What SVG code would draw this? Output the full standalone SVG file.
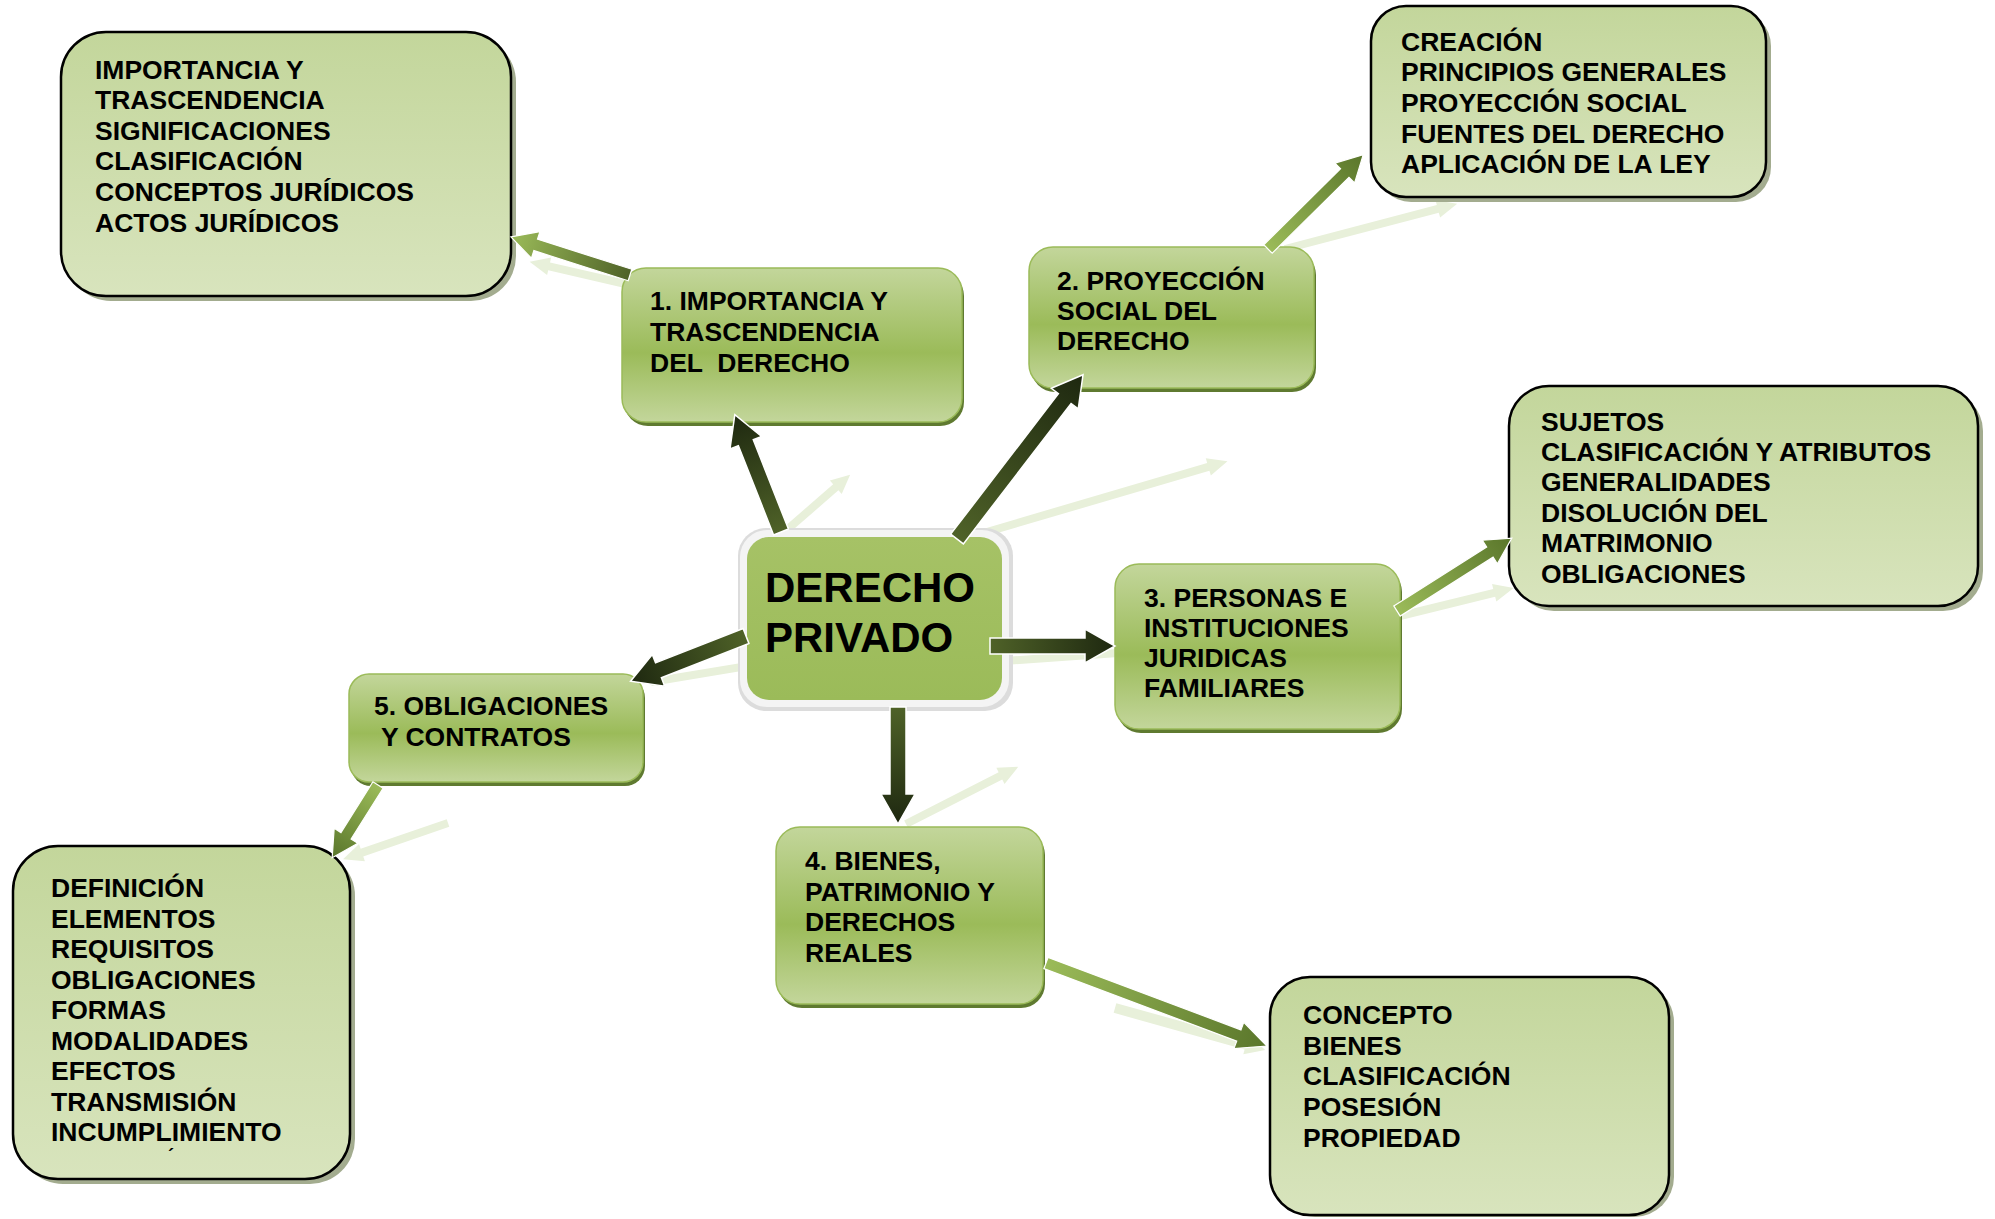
<svg xmlns="http://www.w3.org/2000/svg" width="1995" height="1219" viewBox="0 0 1995 1219">
<defs>
<linearGradient id="nodeGrad" x1="0" y1="0" x2="0" y2="1">
<stop offset="0" stop-color="#c3d69b"/><stop offset="0.55" stop-color="#9bbb59"/><stop offset="1" stop-color="#c3d69b"/>
</linearGradient>
<linearGradient id="detGrad" x1="0" y1="0" x2="0" y2="1">
<stop offset="0" stop-color="#c3d69b"/><stop offset="1" stop-color="#d8e4bd"/>
</linearGradient>
<linearGradient id="cenGrad" x1="0" y1="0" x2="0" y2="1">
<stop offset="0" stop-color="#a6c266"/><stop offset="1" stop-color="#9bbb59"/>
</linearGradient>
<linearGradient id="darkGrad" x1="0" y1="0" x2="1" y2="0">
<stop offset="0" stop-color="#4f6228"/><stop offset="1" stop-color="#1e2810"/>
</linearGradient>
<linearGradient id="lightGrad" x1="0" y1="0" x2="1" y2="0">
<stop offset="0" stop-color="#9bbb59"/><stop offset="1" stop-color="#5a762b"/>
</linearGradient>
<linearGradient id="lightGradR" x1="0" y1="0" x2="1" y2="0">
<stop offset="0" stop-color="#4f6228"/><stop offset="1" stop-color="#9bbb59"/>
</linearGradient>
<style>
.t{font-family:"Liberation Sans",Arial,sans-serif;font-weight:bold;font-size:26.5px;fill:#000;white-space:pre}
.big{font-size:42px}
.node{fill:url(#nodeGrad);stroke:#9bbb59;stroke-width:1.5}
.nsh{fill:#5f7a30}
.det{fill:url(#detGrad);stroke:#000;stroke-width:2.5}
.dsh{fill:#a3ac8f}
.dark{fill:url(#darkGrad);stroke:#fff;stroke-width:1.5}
.light{fill:url(#lightGrad);stroke:#fff;stroke-width:1.2}
.lightr{fill:url(#lightGradR);stroke:#fff;stroke-width:1.2}
.faint{fill:#e8f0da}
</style>
</defs>
<rect width="1995" height="1219" fill="#fff"/>

<g id="reflections">
<path class="faint" transform="translate(789,528) rotate(-41)" d="M0,-4 L62,-4 L62,-9 L81,0 L62,9 L62,4 L0,4 Z"/>
<path class="faint" transform="translate(980,534) rotate(-16.4)" d="M0,-4 L238,-4 L238,-9 L258,0 L238,9 L238,4 L0,4 Z"/>
<path class="faint" transform="translate(990,662) rotate(-4)" d="M0,-4 L125,-4 L125,-9 L145,0 L125,9 L125,4 L0,4 Z"/>
<path class="faint" transform="translate(651,682) rotate(-9.4)" d="M0,-4 L127,-4 L127,-9 L147,0 L127,9 L127,4 L0,4 Z"/>
<path class="faint" transform="translate(906,824) rotate(-27)" d="M0,-4 L106,-4 L106,-9 L126,0 L106,9 L106,4 L0,4 Z"/>
<path class="faint" transform="translate(630,285) rotate(-167)" d="M0,-4 L83,-4 L83,-9 L103,0 L83,9 L83,4 L0,4 Z"/>
<path class="faint" transform="translate(1285,249) rotate(-14.7)" d="M0,-4 L158,-4 L158,-9 L178,0 L158,9 L158,4 L0,4 Z"/>
<path class="faint" transform="translate(1400,616) rotate(-13.8)" d="M0,-4 L97,-4 L97,-9 L117,0 L97,9 L97,4 L0,4 Z"/>
<path class="faint" transform="translate(448,823) rotate(161)" d="M0,-4 L91,-4 L91,-9 L111,0 L91,9 L91,4 L0,4 Z"/>
<path class="faint" transform="translate(1115,1008) rotate(15.6)" d="M0,-5 L136,-5 L136,-10 L156,0 L136,10 L136,5 L0,5 Z"/>
</g>

<g id="b1">
<rect class="dsh" x="66" y="37" width="450" height="264" rx="45"/>
<rect class="det" x="61" y="32" width="450" height="264" rx="45"/>
<text class="t" x="95" y="79">IMPORTANCIA Y</text>
<text class="t" x="95" y="109">TRASCENDENCIA</text>
<text class="t" x="95" y="140">SIGNIFICACIONES</text>
<text class="t" x="95" y="170">CLASIFICACIÓN</text>
<text class="t" x="95" y="201">CONCEPTOS JURÍDICOS</text>
<text class="t" x="95" y="232">ACTOS JURÍDICOS</text>
</g>

<g id="b2">
<rect class="dsh" x="1376" y="11" width="395" height="191" rx="35"/>
<rect class="det" x="1371" y="6" width="395" height="191" rx="35"/>
<text class="t" x="1401" y="51">CREACIÓN</text>
<text class="t" x="1401" y="81">PRINCIPIOS GENERALES</text>
<text class="t" x="1401" y="112">PROYECCIÓN SOCIAL</text>
<text class="t" x="1401" y="143">FUENTES DEL DERECHO</text>
<text class="t" x="1401" y="173">APLICACIÓN DE LA LEY</text>
</g>

<g id="b3">
<rect class="dsh" x="1514" y="391" width="469" height="220" rx="40"/>
<rect class="det" x="1509" y="386" width="469" height="220" rx="40"/>
<text class="t" x="1541" y="431">SUJETOS</text>
<text class="t" x="1541" y="461">CLASIFICACIÓN Y ATRIBUTOS</text>
<text class="t" x="1541" y="491">GENERALIDADES</text>
<text class="t" x="1541" y="522">DISOLUCIÓN DEL</text>
<text class="t" x="1541" y="552">MATRIMONIO</text>
<text class="t" x="1541" y="583">OBLIGACIONES</text>
</g>

<g id="b4">
<rect class="dsh" x="1275" y="982" width="399" height="235" rx="40"/>
<rect class="det" x="1270" y="977" width="399" height="238" rx="40"/>
<text class="t" x="1303" y="1024">CONCEPTO</text>
<text class="t" x="1303" y="1055">BIENES</text>
<text class="t" x="1303" y="1085">CLASIFICACIÓN</text>
<text class="t" x="1303" y="1116">POSESIÓN</text>
<text class="t" x="1303" y="1147">PROPIEDAD</text>
</g>

<g id="b5">
<rect class="dsh" x="18" y="851" width="337" height="333" rx="45"/>
<rect class="det" x="13" y="846" width="337" height="333" rx="45"/>
<text class="t" x="51" y="897">DEFINICIÓN</text>
<text class="t" x="51" y="928">ELEMENTOS</text>
<text class="t" x="51" y="958">REQUISITOS</text>
<text class="t" x="51" y="989">OBLIGACIONES</text>
<text class="t" x="51" y="1019">FORMAS</text>
<text class="t" x="51" y="1050">MODALIDADES</text>
<text class="t" x="51" y="1080">EFECTOS</text>
<text class="t" x="51" y="1111">TRANSMISIÓN</text>
<text class="t" x="51" y="1141">INCUMPLIMIENTO</text>
<text class="t" x="168" y="1162" style="font-size:18px">´</text>
</g>

<g id="n1">
<rect class="nsh" x="624" y="272" width="340" height="154" rx="24"/>
<rect class="node" x="622" y="268" width="340" height="154" rx="24"/>
<text class="t" x="650" y="310">1. IMPORTANCIA Y</text>
<text class="t" x="650" y="341">TRASCENDENCIA</text>
<text class="t" x="650" y="372">DEL  DERECHO</text>
</g>

<g id="n2">
<rect class="nsh" x="1031" y="251" width="285" height="141" rx="24"/>
<rect class="node" x="1029" y="247" width="285" height="141" rx="24"/>
<text class="t" x="1057" y="290">2. PROYECCIÓN</text>
<text class="t" x="1057" y="320">SOCIAL DEL</text>
<text class="t" x="1057" y="350">DERECHO</text>
</g>

<g id="n3">
<rect class="nsh" x="1117" y="568" width="285" height="165" rx="24"/>
<rect class="node" x="1115" y="564" width="285" height="165" rx="24"/>
<text class="t" x="1144" y="607">3. PERSONAS E</text>
<text class="t" x="1144" y="637">INSTITUCIONES</text>
<text class="t" x="1144" y="667">JURIDICAS</text>
<text class="t" x="1144" y="697">FAMILIARES</text>
</g>

<g id="n4">
<rect class="nsh" x="778" y="831" width="267" height="177" rx="24"/>
<rect class="node" x="776" y="827" width="267" height="177" rx="24"/>
<text class="t" x="805" y="870">4. BIENES,</text>
<text class="t" x="805" y="901">PATRIMONIO Y</text>
<text class="t" x="805" y="931">DERECHOS</text>
<text class="t" x="805" y="962">REALES</text>
</g>

<g id="n5">
<rect class="nsh" x="351" y="678" width="294" height="108" rx="20"/>
<rect class="node" x="349" y="674" width="294" height="108" rx="20"/>
<text class="t" x="374" y="715">5. OBLIGACIONES</text>
<text class="t" x="374" y="746"> Y CONTRATOS</text>
</g>

<g id="center">
<rect x="738" y="528" width="275" height="183" rx="28" fill="#dcdcdc"/>
<rect x="740" y="530" width="269" height="177" rx="27" fill="#f4f4f4"/>
<rect x="747" y="537" width="255" height="163" rx="22" fill="url(#cenGrad)"/>
<text class="t big" x="765" y="602">DERECHO</text>
<text class="t big" x="765" y="652">PRIVADO</text>
</g>

<g id="connectors">
<path class="dark" transform="translate(781,532) rotate(-111.5)" d="M0,-8 L96,-8 L96,-17 L126,0 L96,17 L96,8 L0,8 Z"/>
<path class="dark" transform="translate(957,539) rotate(-52.5)" d="M0,-8 L177,-8 L177,-17 L207,0 L177,17 L177,8 L0,8 Z"/>
<path class="dark" transform="translate(990,646) rotate(0)" d="M0,-8 L95,-8 L95,-17 L125,0 L95,17 L95,8 L0,8 Z"/>
<path class="dark" transform="translate(898,707) rotate(90)" d="M0,-8 L87,-8 L87,-17 L117,0 L87,17 L87,8 L0,8 Z"/>
<path class="dark" transform="translate(746,636) rotate(158.6)" d="M0,-8 L94,-8 L94,-17 L124,0 L94,17 L94,8 L0,8 Z"/>
<path class="lightr" transform="translate(630,275) rotate(-162.3)" d="M0,-6 L99,-6 L99,-14 L125,0 L99,14 L99,6 L0,6 Z"/>
<path class="light" transform="translate(1268,249) rotate(-44.7)" d="M0,-6 L108,-6 L108,-14 L134,0 L108,14 L108,6 L0,6 Z"/>
<path class="light" transform="translate(1397,611) rotate(-32.4)" d="M0,-6 L110,-6 L110,-14 L136,0 L110,14 L110,6 L0,6 Z"/>
<path class="light" transform="translate(378,785) rotate(122.2)" d="M0,-6 L60,-6 L60,-14 L86,0 L60,14 L60,6 L0,6 Z"/>
<path class="light" transform="translate(1046,963) rotate(20.6)" d="M0,-6 L206,-6 L206,-14 L236,0 L206,14 L206,6 L0,6 Z"/>
</g>
</svg>
